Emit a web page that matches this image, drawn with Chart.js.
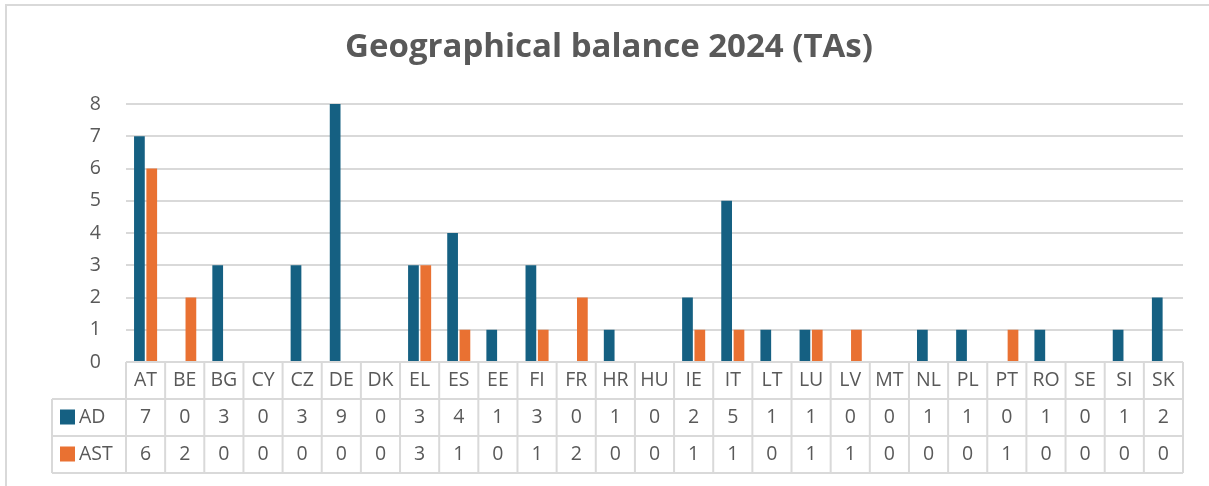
<!DOCTYPE html>
<html>
<head>
<meta charset="utf-8">
<script src="https://cdn.jsdelivr.net/npm/chart.js@4.4.1/dist/chart.umd.min.js"></script>
<style>
  html, body { margin: 0; padding: 0; background: #fff; }
  #wrap { width: 1209px; height: 486px; }
</style>
</head>
<body>
<div id="wrap"><canvas id="geoChart" width="1209" height="486"></canvas></div>
<script>
const categories = ['AT', 'BE', 'BG', 'CY', 'CZ', 'DE', 'DK', 'EL', 'ES', 'EE', 'FI', 'FR', 'HR', 'HU', 'IE', 'IT', 'LT', 'LU', 'LV', 'MT', 'NL', 'PL', 'PT', 'RO', 'SE', 'SI', 'SK'];
const adValues = [7, 0, 3, 0, 3, 9, 0, 3, 4, 1, 3, 0, 1, 0, 2, 5, 1, 1, 0, 0, 1, 1, 0, 1, 0, 1, 2];
const astValues = [6, 2, 0, 0, 0, 0, 0, 3, 1, 0, 1, 2, 0, 0, 1, 1, 0, 1, 1, 0, 0, 0, 1, 0, 0, 0, 0];
const seriesNames = ['AD', 'AST'];
const yTicks = [0, 1, 2, 3, 4, 5, 6, 7, 8];

const textColor = '#595959';
const lineColor = '#d9d9d9';
const fontFamily = '"Open Sans", Roboto, sans-serif';

const ctx = document.getElementById('geoChart').getContext('2d');

// frame of the chart object plus the data table under the plot
const tablePlugin = {
    id: 'dataTable',
    beforeDraw(chart) {
        const c = chart.ctx;
        c.save();
        c.strokeStyle = lineColor;
        c.lineWidth = 2;
        c.beginPath();
        c.moveTo(6, chart.height);
        c.lineTo(6, 5);
        c.lineTo(chart.width, 5);
        c.stroke();
        c.restore();
    },
    afterDraw(chart) {
        const c = chart.ctx;
        const area = chart.chartArea;
        const x = chart.scales.x;
        const n = categories.length;
        const step = (area.right - area.left) / n;
        const rowH = 37;
        const top = area.bottom;
        const labelLeft = 52;

        c.save();
        c.strokeStyle = lineColor;
        c.lineWidth = 2;
        c.beginPath();
        c.moveTo(area.left, top);
        c.lineTo(area.right, top);
        for (let r = 1; r <= 3; r++) {
            c.moveTo(labelLeft, top + r * rowH);
            c.lineTo(area.right, top + r * rowH);
        }
        c.moveTo(labelLeft, top + rowH);
        c.lineTo(labelLeft, top + 3 * rowH);
        for (let i = 0; i <= n; i++) {
            const bx = area.left + i * step;
            c.moveTo(bx, top);
            c.lineTo(bx, top + 3 * rowH);
        }
        c.stroke();

        c.fillStyle = textColor;
        c.font = '19.5px ' + fontFamily;
        c.textAlign = 'center';
        c.textBaseline = 'middle';
        categories.forEach((cat, i) => {
            const cx = x.getPixelForValue(i);
            c.fillText(cat, cx, top + rowH * 0.5);
            c.fillText(String(adValues[i]), cx, top + rowH * 1.5);
            c.fillText(String(astValues[i]), cx, top + rowH * 2.5);
        });

        chart.data.datasets.forEach((ds, r) => {
            const cy = top + rowH * (r + 1.5);
            c.fillStyle = ds.backgroundColor;
            c.fillRect(60, cy - 8, 15, 15);
            c.fillStyle = textColor;
            c.textAlign = 'left';
            c.fillText(ds.label, 79, cy);
        });
        c.restore();
    }
};

window.chart = new Chart(ctx, {
    type: 'bar',
    data: {
        labels: categories,
        datasets: [{
            label: seriesNames[0],
            data: adValues,
            backgroundColor: '#156082',
            barPercentage: 0.87,
            categoryPercentage: 0.63
        }, {
            label: seriesNames[1],
            data: astValues,
            backgroundColor: '#e97132',
            barPercentage: 0.87,
            categoryPercentage: 0.63
        }]
    },
    options: {
        responsive: false,
        animation: false,
        layout: {
            padding: { left: 35, right: 26, top: 0, bottom: 124 }
        },
        plugins: {
            legend: { display: false },
            tooltip: { enabled: false },
            title: {
                display: true,
                text: 'Geographical balance 2024 (TAs)',
                color: textColor,
                font: { family: fontFamily, size: 33, weight: 'bold' },
                padding: { top: 28, bottom: 36.4 }
            }
        },
        scales: {
            x: {
                display: false
            },
            y: {
                min: yTicks[0],
                max: yTicks[yTicks.length - 1],
                afterFit: scale => { scale.width = 91; },
                afterBuildTicks: scale => { scale.ticks = yTicks.map(v => ({ value: v })); },
                border: { display: false },
                grid: { color: lineColor, lineWidth: 2, drawTicks: false },
                ticks: {
                    color: textColor,
                    padding: 25,
                    font: { family: fontFamily, size: 19.5 }
                }
            }
        }
    },
    plugins: [tablePlugin]
});
</script>
</body>
</html>
